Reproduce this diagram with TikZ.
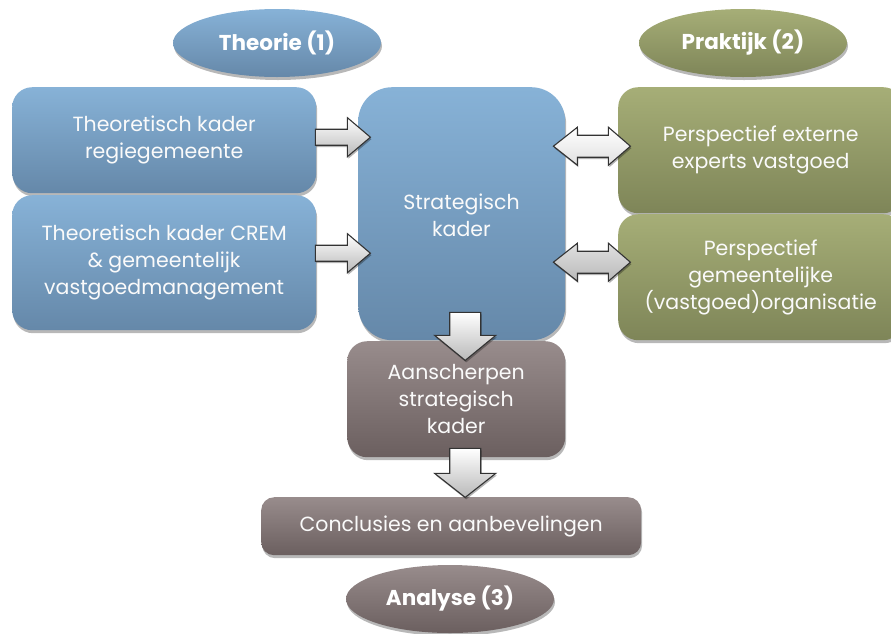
\documentclass[tikz,border=0pt]{standalone}
\usepackage{fontspec}
\setmainfont{Poppins}
\usetikzlibrary{shapes.geometric,shadows}

\definecolor{bluetop}{HTML}{87B2D7}
\definecolor{bluebot}{HTML}{6588A9}
\definecolor{greentop}{HTML}{A6AE77}
\definecolor{greenbot}{HTML}{7E8558}
\definecolor{browntop}{HTML}{988C8C}
\definecolor{brownbot}{HTML}{6B5F5F}

\tikzset{
  softshadow/.style={drop shadow={shadow xshift=1pt,shadow yshift=-3pt,opacity=0.28,fill=black}},
  boxfont/.style={font=\fontsize{20.5}{27}\selectfont},
  box/.style={rectangle,rounded corners=20pt,anchor=north west,inner sep=0pt,
    text=white!96!gray,align=center,boxfont,softshadow},
  bluebox/.style={box,top color=bluetop,bottom color=bluebot},
  greenbox/.style={box,top color=greentop,bottom color=greenbot},
  brownbox/.style={box,top color=browntop,bottom color=brownbot},
  label/.style={ellipse,inner sep=0pt,minimum width=208pt,minimum height=68pt,
    text=white,font=\fontsize{21.5}{25}\selectfont\bfseries,softshadow},
  blockarrow/.style={draw=black!80,line width=1.1pt,line join=miter,
    top color=white,bottom color=gray!55,
    drop shadow={shadow xshift=1pt,shadow yshift=-2pt,opacity=0.3,fill=black}},
}

\begin{document}
\begin{tikzpicture}[x=1pt,y=-1pt]
\useasboundingbox (0,0) rectangle (891,633);
\clip (0,0) rectangle (891,633);

% theory blocks
\node[bluebox,minimum width=304pt,minimum height=106pt] (t1) at (12,87)
  {Theoretisch kader\\regiegemeente};
\node[bluebox,minimum width=304pt,minimum height=135pt] (t2) at (12,195)
  {Theoretisch kader CREM\\\& gemeentelijk\\vastgoedmanagement};

% central framework
\node[bluebox,rounded corners=34pt,minimum width=207pt,minimum height=253pt] (sk) at (358,87) {};
\node[text=white!96!gray,align=center,boxfont] (sktext)
  at (461.5,215) {Strategisch\\kader};

% practice blocks
\node[greenbox,minimum width=285pt,minimum height=126pt] (g1) at (618,87)
  {Perspectief externe\\experts vastgoed};
\node[greenbox,minimum width=285pt,minimum height=126pt] (g2) at (618,214)
  {Perspectief\\gemeentelijke\\(vastgoed)organisatie};

% analysis blocks
\node[brownbox,minimum width=218pt,minimum height=116pt] (ak) at (347,341)
  {Aanscherpen\\strategisch\\kader};
\node[brownbox,rounded corners=13pt,minimum width=380pt,minimum height=58pt] (cc) at (261,497)
  {Conclusies en aanbevelingen};

% phase labels
\node[label,top color=bluetop,bottom color=bluebot] (th) at (277,43) {Theorie (1)};
\node[label,top color=greentop,bottom color=greenbot] (pr) at (743,43) {Praktijk (2)};
\node[label,top color=browntop,bottom color=brownbot] (an) at (450,599) {Analyse (3)};

% block arrows: theory -> framework
\draw[blockarrow] (t1.east) ++(-1,-11) -- ++(32,0) -- ++(0,-11.5) -- ++(23,19.5)
  -- ++(-23,19.5) -- ++(0,-11.5) -- ++(-32,0) -- cycle;
\draw[blockarrow] (t2.east) ++(-1,-17.5) -- ++(32,0) -- ++(0,-11.5) -- ++(23,19.5)
  -- ++(-23,19.5) -- ++(0,-11.5) -- ++(-32,0) -- cycle;

% double block arrows: framework <-> practice
\draw[blockarrow] (sk.east) ++(-12,-67.5) -- ++(24,-19) -- ++(0,8) -- ++(31,0) -- ++(0,-8)
  -- ++(22,19) -- ++(-22,19) -- ++(0,-8) -- ++(-31,0) -- ++(0,8) -- cycle;
\draw[blockarrow] (sk.east) ++(-12,48.5) -- ++(24,-19) -- ++(0,8) -- ++(31,0) -- ++(0,-8)
  -- ++(22,19) -- ++(-22,19) -- ++(0,-8) -- ++(-31,0) -- ++(0,8) -- cycle;

% block arrows downwards
\draw[blockarrow] (sk.south) ++(-12,-28) -- ++(31,0) -- ++(0,23) -- ++(15,0)
  -- ++(-30.5,25) -- ++(-30.5,-25) -- ++(15,0) -- cycle;
\draw[blockarrow] (ak.south) ++(-6.5,-9) -- ++(31,0) -- ++(0,25) -- ++(15,0)
  -- ++(-30.5,24) -- ++(-30.5,-24) -- ++(15,0) -- cycle;
\end{tikzpicture}
\end{document}
